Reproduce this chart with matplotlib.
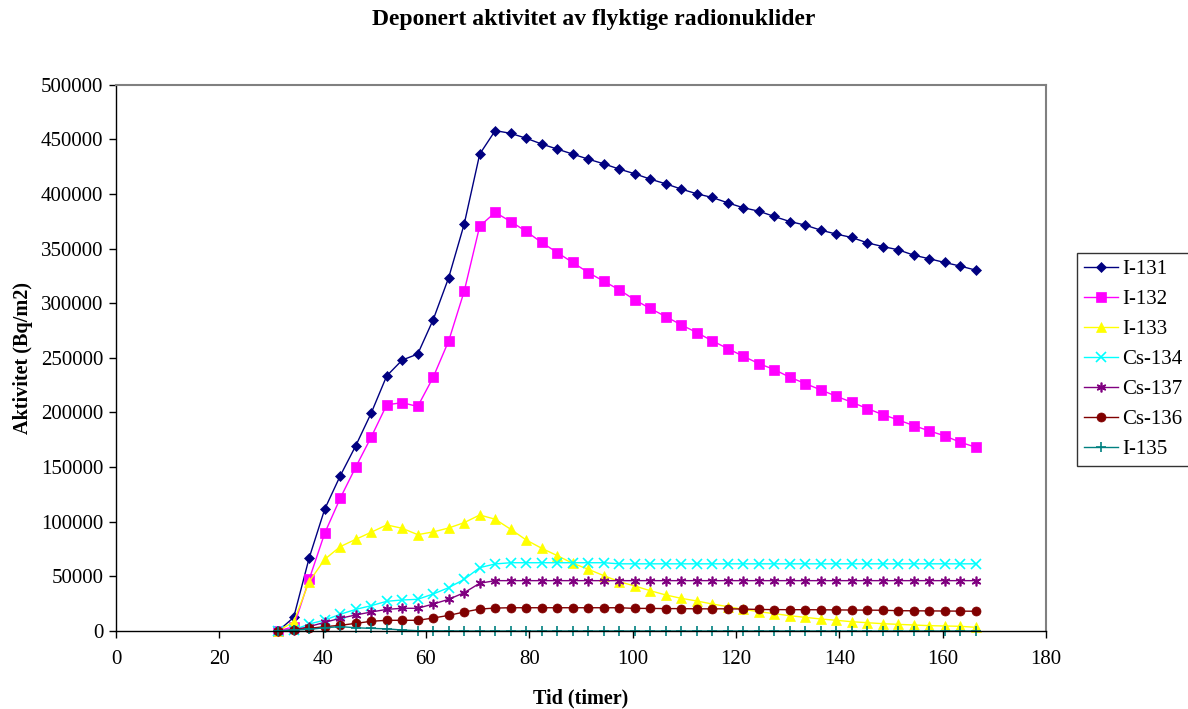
import matplotlib
matplotlib.use("Agg")
import matplotlib.pyplot as plt
from matplotlib.ticker import MultipleLocator, FormatStrFormatter

plt.rcParams['font.family'] = ['Liberation Serif', 'DejaVu Serif']

# Time after release (hours)
hours = [31.4, 34.4, 37.4, 40.4, 43.4, 46.4, 49.4, 52.4, 55.4, 58.4,
         61.4, 64.4, 67.4, 70.4, 73.4, 76.4, 79.4, 82.4, 85.4, 88.4,
         91.4, 94.4, 97.4, 100.4, 103.4, 106.4, 109.4, 112.4, 115.4, 118.4,
         121.4, 124.4, 127.4, 130.4, 133.4, 136.4, 139.4, 142.4, 145.4, 148.4,
         151.4, 154.4, 157.4, 160.4, 163.4, 166.4]

i131 = [0, 12500, 67000, 111500, 142000, 169500, 199500, 233500, 248000, 253500,
        285000, 323500, 372500, 436500, 458000, 455500, 451000, 445700, 441100, 436500,
        431900, 427600, 422800, 418500, 413600, 409300, 404500, 400200, 396800, 391900,
        387400, 384300, 379400, 374800, 371500, 366900, 363300, 360200, 355300, 351900,
        348900, 344000, 340700, 337300, 334000, 330300]

i132 = [0, 4000, 47300, 89500, 121500, 150000, 177500, 207000, 209000, 205500,
        232300, 265600, 311000, 370600, 383100, 374800, 365700, 355600, 346400, 337300,
        328100, 320200, 312300, 303100, 295200, 287800, 280200, 273200, 265600, 258500,
        251500, 244800, 239300, 232300, 226500, 220700, 214900, 209400, 203600, 198100,
        193200, 188000, 183200, 178600, 172800, 168200]

i133 = [0, 8500, 45200, 65600, 77200, 83900, 90400, 97100, 94000, 88200,
        90700, 94300, 99200, 106200, 102300, 93100, 83300, 75700, 69000, 62000,
        56500, 50700, 45200, 41200, 36900, 33000, 29900, 27500, 24700, 22300,
        19800, 17700, 15900, 14000, 12500, 11000, 9800, 8500, 7600, 6700,
        6100, 5500, 4900, 4600, 4300, 3400]

cs134 = [0, 1000, 6400, 10000, 15300, 19800, 23200, 27200, 28400, 29000,
         33900, 39700, 47300, 58000, 61400, 62500, 62500, 62500, 62500, 62500,
         62500, 62500, 61500, 61500, 61500, 61500, 61500, 61500, 61500, 61500,
         61500, 61500, 61500, 61500, 61500, 61500, 61500, 61500, 61500, 61500,
         61500, 61500, 61500, 61500, 61500, 61500]

cs137 = [0, 1000, 4000, 8000, 11600, 14700, 17400, 19800, 20800, 20800,
         24700, 29000, 35100, 43700, 46100, 46100, 46100, 46100, 46100, 46100,
         46100, 46100, 46100, 46100, 46100, 46100, 46100, 46100, 46100, 46100,
         46100, 46100, 46100, 46100, 46100, 46100, 46100, 46100, 46100, 46100,
         46100, 46100, 46100, 46100, 46100, 46100]

cs136 = [0, 1000, 2400, 4000, 5200, 7000, 8900, 9800, 9800, 9800,
         11900, 14300, 17400, 20100, 21000, 21300, 21300, 21300, 21300, 21300,
         21300, 21300, 21300, 20700, 20700, 20500, 20500, 20300, 20300, 20300,
         20100, 19700, 19600, 19500, 19500, 19400, 19300, 19200, 19100, 19000,
         18600, 18500, 18400, 18300, 18200, 18100]

i135 = [0, 800, 1500, 3000, 4000, 3000, 2400, 2000, 900, 300,
        200, 100, 0, 0, 0, 0, 0, 0, 0, 0,
        0, 0, 0, 0, 0, 0, 0, 0, 0, 0,
        0, 0, 0, 0, 0, 0, 0, 0, 0, 0,
        0, 0, 0, 0, 0, 0]

series_names = ["I-131", "I-132", "I-133", "Cs-134", "Cs-137", "Cs-136", "I-135"]
series_values = [i131, i132, i133, cs134, cs137, cs136, i135]
colors = ["#000080", "#FF00FF", "#FFFF00", "#00FFFF", "#800080", "#800000", "#008080"]
markers = ["D", "s", "^", "x", (6, 2, 0), "o", "+"]
msizes = [5.5, 6.5, 6.5, 6.5, 7, 6.5, 6.5]

fig = plt.figure(figsize=(11.88, 7.09), dpi=100)
ax = fig.add_axes([0.0976, 0.110, 0.7829, 0.7705])

for name, vals, col, mk, ms in zip(series_names, series_values, colors, markers, msizes):
    stroke = mk in ("x", "+") or isinstance(mk, tuple)
    ax.plot(hours, vals, color=col, marker=mk, markersize=ms, linewidth=1.0,
            markeredgewidth=1.2 if stroke else 0.5,
            markeredgecolor=col, markerfacecolor=col, label=name, clip_on=False)

ax.set_xlim(0, 180)
ax.set_ylim(0, 500000)
ax.xaxis.set_major_locator(MultipleLocator(20))
ax.yaxis.set_major_locator(MultipleLocator(50000))
ax.yaxis.set_major_formatter(FormatStrFormatter('%d'))
ax.xaxis.set_major_formatter(FormatStrFormatter('%d'))

ax.tick_params(axis='both', direction='out', length=5, width=1, labelsize=15,
               colors='black')
ax.tick_params(axis='x', pad=9)
ax.tick_params(axis='y', pad=4)
ax.tick_params(top=False, right=False)

for side in ('left', 'bottom'):
    ax.spines[side].set_color('black')
    ax.spines[side].set_linewidth(1.0)
for side in ('top', 'right'):
    ax.spines[side].set_color('#808080')
    ax.spines[side].set_linewidth(1.5)

ax.set_xlabel("Tid (timer)", fontsize=14.5, fontweight='bold', labelpad=14)
ax.set_ylabel("Aktivitet (Bq/m2)", fontsize=14.5, fontweight='bold', labelpad=6)
fig.suptitle("Deponert aktivitet av flyktige radionuklider", fontsize=17,
             fontweight='bold', x=0.5, y=0.988)

leg = fig.legend(loc='upper left', bbox_to_anchor=(1077 / 1188, 1 - 253 / 709),
                 fontsize=15, frameon=True, fancybox=False, shadow=False,
                 borderpad=0.32, labelspacing=0.5, handlelength=1.63,
                 handletextpad=0.2, borderaxespad=0)
leg.get_frame().set_edgecolor('black')
leg.get_frame().set_linewidth(1.0)

fig.savefig("out.png", dpi=100)
